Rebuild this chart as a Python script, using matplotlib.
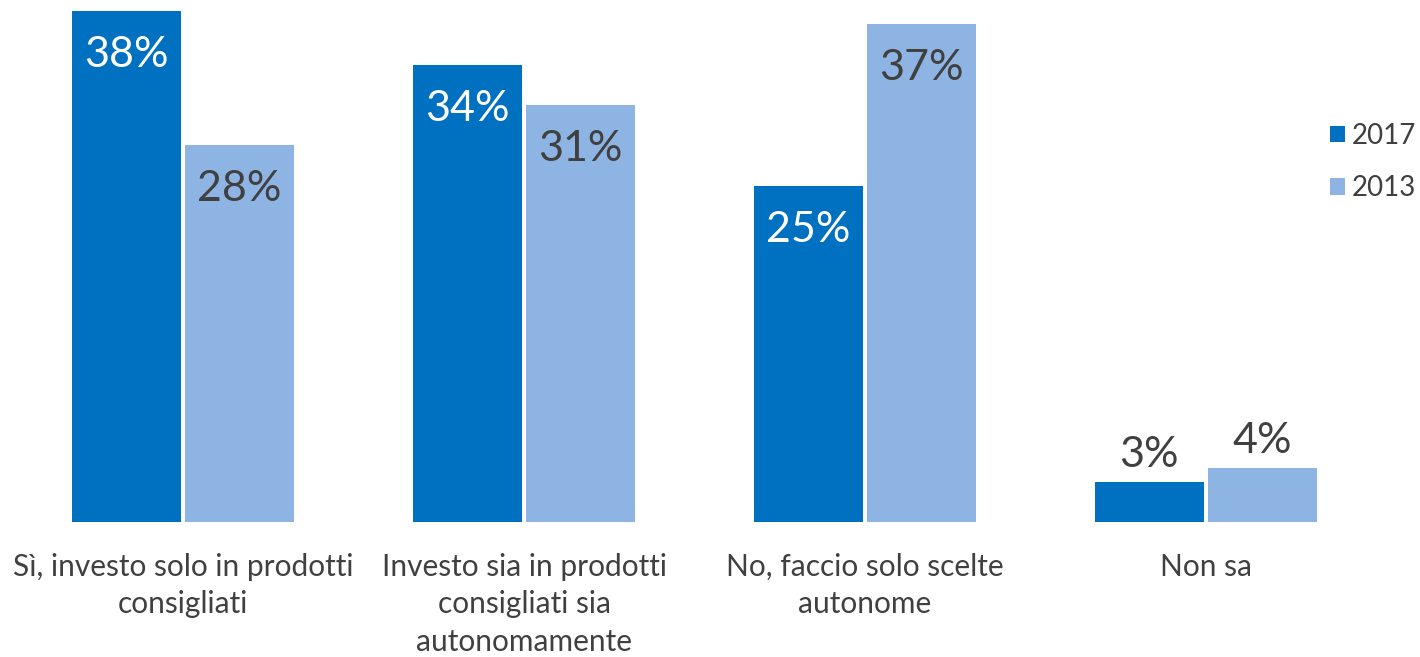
import numpy as np
import matplotlib.pyplot as plt

categories = ["Sì, investo solo in prodotti\nconsigliati",
              "Investo sia in prodotti\nconsigliati sia\nautonomamente",
              "No, faccio solo scelte\nautonome",
              "Non sa"]
years = ["2017", "2013"]
values_2017 = [38, 34, 25, 3]
values_2013 = [28, 31, 37, 4]

plt.rcParams['font.family'] = ['Lato', 'DejaVu Sans']

c17 = '#0070C0'
c13 = '#8EB4E3'
grey = '#404040'

fig = plt.figure(figsize=(14.2, 6.57), dpi=100)
ax = fig.add_axes([20 / 1420, 135 / 657, 1300 / 1420, 522 / 657])

x = np.arange(len(categories))
w = 0.32
off = 0.166
b1 = ax.bar(x - off, values_2017, w, color=c17, label=years[0])
b2 = ax.bar(x + off, values_2013, w, color=c13, label=years[1])

ax.set_xlim((20 - 183) / 341, (1320 - 183) / 341)
ax.set_ylim(0, 522 / 13.45)

# value labels: inside the top of tall bars, above short ones
px = 522 / 13.45 / 522  # data units per pixel
for bars, vals, inner_col in [(b1, values_2017, 'white'), (b2, values_2013, grey)]:
    for rect, v in zip(bars, vals):
        cx = rect.get_x() + rect.get_width() / 2
        if v >= 10:
            ax.text(cx, v - 44 * px, f"{v}%", ha='center', va='center',
                    fontsize=31, color=inner_col)
        else:
            ax.text(cx, v + 27 * px, f"{v}%", ha='center', va='center',
                    fontsize=31, color=grey)

ax.set_xticks(x)
ax.set_xticklabels(categories, fontsize=21.5, color=grey, linespacing=1.42, va='top')
ax.tick_params(axis='x', length=0, pad=22)
ax.set_yticks([])
for s in ax.spines.values():
    s.set_visible(False)

ax.legend(loc='center left', bbox_to_anchor=(1330 / 1420, 1 - 162 / 657),
          bbox_transform=fig.transFigure, frameon=False, fontsize=20,
          handlelength=0.55, handleheight=0.55, handletextpad=0.25,
          labelspacing=0.95, labelcolor=grey, borderpad=0, borderaxespad=0)

fig.savefig('out.png', dpi=100)
